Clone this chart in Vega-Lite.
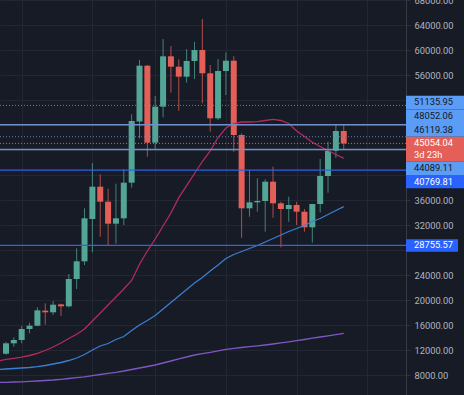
{
  "$schema": "https://vega.github.io/schema/vega-lite/v6.json",
  "width": 406,
  "height": 395,
  "autosize": {"type": "none"},
  "padding": {"left": 0, "top": 0, "right": 58, "bottom": 0},
  "background": "#171b26",
  "config": {"view": {"stroke": null}, "font": "Roboto"},
  "resolve": {"axis": {"x": "independent", "y": "independent"}},
  "datasets": {
    "candles": [
      {"k":0,"o":11400,"h":13300,"l":11250,"c":13070},
      {"k":1,"o":13070,"h":14030,"l":12530,"c":13600},
      {"k":2,"o":13600,"h":15840,"l":13070,"c":15360},
      {"k":3,"o":15360,"h":16370,"l":14670,"c":15890},
      {"k":4,"o":15890,"h":18830,"l":15800,"c":18350},
      {"k":5,"o":18300,"h":19470,"l":16050,"c":18030},
      {"k":6,"o":18030,"h":19840,"l":17600,"c":19250},
      {"k":7,"o":19300,"h":19410,"l":17440,"c":18990},
      {"k":8,"o":18990,"h":24160,"l":18800,"c":23360},
      {"k":9,"o":23360,"h":28270,"l":21760,"c":26190},
      {"k":10,"o":26190,"h":34670,"l":25600,"c":33070},
      {"k":11,"o":32960,"h":41920,"l":27630,"c":38130},
      {"k":12,"o":38130,"h":40110,"l":30130,"c":35730},
      {"k":13,"o":35730,"h":37810,"l":28800,"c":32210},
      {"k":14,"o":32210,"h":38610,"l":29010,"c":33070},
      {"k":15,"o":33070,"h":40960,"l":32000,"c":38770},
      {"k":16,"o":38770,"h":49710,"l":37970,"c":48640},
      {"k":17,"o":48560,"h":58400,"l":45870,"c":57490},
      {"k":18,"o":57490,"h":57600,"l":42930,"c":45170},
      {"k":19,"o":45170,"h":52640,"l":44000,"c":50930},
      {"k":20,"o":50930,"h":61760,"l":49230,"c":58990},
      {"k":21,"o":58990,"h":60640,"l":53170,"c":57330},
      {"k":22,"o":57330,"h":58510,"l":50290,"c":55730},
      {"k":23,"o":55730,"h":60160,"l":54770,"c":58240},
      {"k":24,"o":58240,"h":61280,"l":55360,"c":60000},
      {"k":25,"o":60000,"h":64960,"l":51470,"c":56270},
      {"k":26,"o":56270,"h":57600,"l":46930,"c":49070},
      {"k":27,"o":49070,"h":58560,"l":48800,"c":56640},
      {"k":28,"o":56640,"h":59630,"l":52800,"c":58290},
      {"k":29,"o":58290,"h":59000,"l":43730,"c":46400},
      {"k":30,"o":46400,"h":46670,"l":29970,"c":34670},
      {"k":31,"o":34670,"h":40800,"l":33330,"c":35630},
      {"k":32,"o":35630,"h":39470,"l":34130,"c":35840},
      {"k":33,"o":35840,"h":39310,"l":30930,"c":38930},
      {"k":34,"o":38930,"h":41330,"l":33170,"c":35470},
      {"k":35,"o":35470,"h":35730,"l":28430,"c":34560},
      {"k":36,"o":34560,"h":36530,"l":32530,"c":35200},
      {"k":37,"o":35200,"h":35700,"l":32000,"c":34130},
      {"k":38,"o":34130,"h":34560,"l":30930,"c":31630},
      {"k":39,"o":31630,"h":35360,"l":29170,"c":35360},
      {"k":40,"o":35360,"h":42560,"l":34000,"c":39840},
      {"k":41,"o":39840,"h":45330,"l":37170,"c":43890},
      {"k":42,"o":43890,"h":48160,"l":42770,"c":47040},
      {"k":43,"o":47040,"h":48000,"l":44000,"c":45054.04}
    ],
    "ma": [
      {"k":-1,"r":10240,"b":8880,"p":6800},
      {"k":0,"r":10512,"b":8960,"p":6832},
      {"k":1,"r":10672,"b":9040,"p":6880},
      {"k":2,"r":10848,"b":9120,"p":6912},
      {"k":3,"r":11120,"b":9200,"p":6976},
      {"k":4,"r":11472,"b":9328,"p":7040},
      {"k":5,"r":11920,"b":9520,"p":7120},
      {"k":6,"r":12480,"b":9760,"p":7200},
      {"k":7,"r":13120,"b":10000,"p":7312},
      {"k":8,"r":13840,"b":10320,"p":7440},
      {"k":9,"r":14512,"b":10720,"p":7568},
      {"k":10,"r":15360,"b":11280,"p":7712},
      {"k":11,"r":16640,"b":12000,"p":7888},
      {"k":12,"r":17920,"b":12640,"p":8080},
      {"k":13,"r":19200,"b":13040,"p":8256},
      {"k":14,"r":20480,"b":13680,"p":8432},
      {"k":15,"r":21760,"b":14160,"p":8640},
      {"k":16,"r":23120,"b":15120,"p":8880},
      {"k":17,"r":25728,"b":16000,"p":9120},
      {"k":18,"r":27840,"b":16720,"p":9360},
      {"k":19,"r":29760,"b":17520,"p":9600},
      {"k":20,"r":31840,"b":18560,"p":9920},
      {"k":21,"r":33920,"b":19600,"p":10240},
      {"k":22,"r":36368,"b":20640,"p":10592},
      {"k":23,"r":38288,"b":21680,"p":10880},
      {"k":24,"r":40240,"b":22720,"p":11200},
      {"k":25,"r":42160,"b":23600,"p":11424},
      {"k":26,"r":43840,"b":24640,"p":11632},
      {"k":27,"r":46000,"b":25600,"p":11872},
      {"k":28,"r":47520,"b":26640,"p":12112},
      {"k":29,"r":48240,"b":27280,"p":12256},
      {"k":30,"r":48480,"b":27760,"p":12400},
      {"k":31,"r":48480,"b":28240,"p":12528},
      {"k":32,"r":48528,"b":28720,"p":12656},
      {"k":33,"r":48720,"b":29280,"p":12800},
      {"k":34,"r":48912,"b":29840,"p":12960},
      {"k":35,"r":48720,"b":30400,"p":13136},
      {"k":36,"r":48240,"b":30960,"p":13312},
      {"k":37,"r":47040,"b":31440,"p":13488},
      {"k":38,"r":46160,"b":31920,"p":13680},
      {"k":39,"r":45232,"b":32560,"p":13888},
      {"k":40,"r":44560,"b":33040,"p":14080},
      {"k":41,"r":43920,"b":33680,"p":14272},
      {"k":42,"r":43280,"b":34320,"p":14464},
      {"k":43,"r":42672,"b":34928,"p":14672}
    ],
    "levels": [
      {"price":51135.95,"kind":"dot","label":"51135.95"},
      {"price":48052.06,"kind":"light","label":"48052.06"},
      {"price":46119.38,"kind":"dot","label":"46119.38"},
      {"price":45054.04,"kind":"last","label":"45054.04"},
      {"price":44089.11,"kind":"light","label":"44089.11"},
      {"price":40769.81,"kind":"blue","label":"40769.81"},
      {"price":28755.57,"kind":"blue","label":"28755.57"}
    ]
  },
  "layer": [
    {
      "data": {"name": "candles"},
      "mark": {"type": "rule", "strokeWidth": 1, "opacity": 0.75},
      "encoding": {
        "x": {"field": "k", "type": "quantitative", "title": null, "scale": {"domain": [-0.124, 50.29], "nice": false, "zero": false},
              "axis": {"orient": "bottom", "values": [2, 11, 19, 28, 37, 46], "labels": false, "ticks": false, "domain": false, "title": null, "grid": true, "gridColor": "#232733", "gridWidth": 1}},
        "y": {"field": "l", "type": "quantitative", "title": null, "scale": {"domain": [4800, 68000], "nice": false, "zero": false},
              "axis": {"orient": "right", "values": [8000,12000,16000,20000,24000,28000,32000,36000,40000,44000,48000,52000,56000,60000,64000,68000],
                       "format": ".2f", "labelExpr": "indexof([28000,40000,44000,48000,52000], datum.value) >= 0 ? '' : datum.label",
                       "labelColor": "#b2b5be", "labelFontSize": 9.3, "labelFont": "Roboto", "labelAlign": "left", "labelBaseline": "middle",
                       "labelPadding": 4, "tickSize": 4, "tickColor": "#2e323d", "domainColor": "#363a45", "domainWidth": 1,
                       "grid": true, "gridColor": "#232733", "gridWidth": 1, "title": null, "labelBound": false, "labelFlush": false, "labelOverlap": false, "labelSeparation": 0}},
        "y2": {"field": "h"},
        "color": {"condition": {"test": "datum.c >= datum.o", "value": "#53a596"}, "value": "#e35f57"}
      }
    },
    {
      "data": {"name": "candles"},
      "mark": {"type": "bar", "width": 6},
      "encoding": {
        "x": {"field": "k", "type": "quantitative", "axis": null},
        "y": {"field": "o", "type": "quantitative", "axis": null},
        "y2": {"field": "c"},
        "color": {"condition": {"test": "datum.c >= datum.o", "value": "#53a596"}, "value": "#e35f57"}
      }
    },
    {
      "data": {"name": "ma"},
      "mark": {"type": "line", "color": "#7e57c2", "strokeWidth": 1.3, "clip": true},
      "encoding": {
        "x": {"field": "k", "type": "quantitative", "axis": null},
        "y": {"field": "p", "type": "quantitative", "axis": null}
      }
    },
    {
      "data": {"name": "ma"},
      "mark": {"type": "line", "color": "#3b7fcf", "strokeWidth": 1.3, "clip": true},
      "encoding": {
        "x": {"field": "k", "type": "quantitative", "axis": null},
        "y": {"field": "b", "type": "quantitative", "axis": null}
      }
    },
    {
      "data": {"name": "ma"},
      "mark": {"type": "line", "color": "#b52a5e", "strokeWidth": 1.3, "clip": true},
      "encoding": {
        "x": {"field": "k", "type": "quantitative", "axis": null},
        "y": {"field": "r", "type": "quantitative", "axis": null}
      }
    },
    {
      "data": {"name": "levels"},
      "transform": [{"filter": "datum.kind == 'dot'"}],
      "mark": {"type": "rule", "color": "#5f7fbf", "strokeWidth": 1, "strokeDash": [1, 2]},
      "encoding": {"y": {"field": "price", "type": "quantitative", "axis": null}}
    },
    {
      "data": {"name": "levels"},
      "transform": [{"filter": "datum.kind == 'last'"}],
      "mark": {"type": "rule", "color": "#e35f57", "strokeWidth": 1, "strokeDash": [1, 2]},
      "encoding": {"y": {"field": "price", "type": "quantitative", "axis": null}}
    },
    {
      "data": {"name": "levels"},
      "transform": [{"filter": "datum.kind == 'light'"}],
      "mark": {"type": "rule", "color": "#6e8fcc", "strokeWidth": 1.5},
      "encoding": {"y": {"field": "price", "type": "quantitative", "axis": null}}
    },
    {
      "data": {"name": "levels"},
      "transform": [{"filter": "datum.kind == 'blue'"}],
      "mark": {"type": "rule", "color": "#2f62e6", "strokeWidth": 1.3},
      "encoding": {"y": {"field": "price", "type": "quantitative", "axis": null}}
    },
    {
      "data": {"name": "levels"},
      "transform": [{"filter": "datum.label == '51135.95'"}],
      "layer": [
        {"mark": {"type": "point", "shape": "M-1,-0.334H1V0.124H-1Z", "size": 3364, "filled": true, "opacity": 1, "color": "#5b9cf6", "strokeWidth": 0, "x": {"expr": "width + 29"}}},
        {"mark": {"type": "text", "align": "left", "baseline": "middle", "dy": -3.1, "x": {"expr": "width + 8"}, "fontSize": 9.3, "fill": "#131722"}, "encoding": {"text": {"field": "label"}}}
      ],
      "encoding": {"y": {"field": "price", "type": "quantitative", "axis": null}}
    },
    {
      "data": {"name": "levels"},
      "transform": [{"filter": "datum.label == '48052.06'"}],
      "layer": [
        {"mark": {"type": "point", "shape": "M-1,-0.528H1V-0.059H-1Z", "size": 3364, "filled": true, "opacity": 1, "color": "#5b9cf6", "strokeWidth": 0, "x": {"expr": "width + 29"}}},
        {"mark": {"type": "text", "align": "left", "baseline": "middle", "dy": -8.7, "x": {"expr": "width + 8"}, "fontSize": 9.3, "fill": "#131722"}, "encoding": {"text": {"field": "label"}}}
      ],
      "encoding": {"y": {"field": "price", "type": "quantitative", "axis": null}}
    },
    {
      "data": {"name": "levels"},
      "transform": [{"filter": "datum.label == '46119.38'"}],
      "layer": [
        {"mark": {"type": "point", "shape": "M-1,-0.474H1V-0.002H-1Z", "size": 3364, "filled": true, "opacity": 1, "color": "#5b9cf6", "strokeWidth": 0, "x": {"expr": "width + 29"}}},
        {"mark": {"type": "text", "align": "left", "baseline": "middle", "dy": -7, "x": {"expr": "width + 8"}, "fontSize": 9.3, "fill": "#131722"}, "encoding": {"text": {"field": "label"}}}
      ],
      "encoding": {"y": {"field": "price", "type": "quantitative", "axis": null}}
    },
    {
      "data": {"name": "levels"},
      "transform": [{"filter": "datum.label == '45054.04'"}],
      "layer": [
        {"mark": {"type": "point", "shape": "M-1,-0.231H1V0.631H-1Z", "size": 3364, "filled": true, "opacity": 1, "color": "#e35f57", "strokeWidth": 0, "x": {"expr": "width + 29"}}},
        {"mark": {"type": "text", "align": "left", "baseline": "middle", "dy": 0, "x": {"expr": "width + 8"}, "fontSize": 9.3, "fill": "#ffffff"}, "encoding": {"text": {"field": "label"}}},
        {"mark": {"type": "text", "align": "left", "baseline": "middle", "dy": 11.6, "x": {"expr": "width + 8"}, "fontSize": 9.3, "fill": "#ffffff", "text": "3d 23h"}}
      ],
      "encoding": {"y": {"field": "price", "type": "quantitative", "axis": null}}
    },
    {
      "data": {"name": "levels"},
      "transform": [{"filter": "datum.label == '44089.11'"}],
      "layer": [
        {"mark": {"type": "point", "shape": "M-1,0.424H1V0.883H-1Z", "size": 3364, "filled": true, "opacity": 1, "color": "#5b9cf6", "strokeWidth": 0, "x": {"expr": "width + 29"}}},
        {"mark": {"type": "text", "align": "left", "baseline": "middle", "dy": 18.9, "x": {"expr": "width + 8"}, "fontSize": 9.3, "fill": "#131722"}, "encoding": {"text": {"field": "label"}}}
      ],
      "encoding": {"y": {"field": "price", "type": "quantitative", "axis": null}}
    },
    {
      "data": {"name": "levels"},
      "transform": [{"filter": "datum.label == '40769.81'"}],
      "layer": [
        {"mark": {"type": "point", "shape": "M-1,0.166H1V0.624H-1Z", "size": 3364, "filled": true, "opacity": 1, "color": "#2962ff", "strokeWidth": 0, "x": {"expr": "width + 29"}}},
        {"mark": {"type": "text", "align": "left", "baseline": "middle", "dy": 11.5, "x": {"expr": "width + 8"}, "fontSize": 9.3, "fill": "#ffffff"}, "encoding": {"text": {"field": "label"}}}
      ],
      "encoding": {"y": {"field": "price", "type": "quantitative", "axis": null}}
    },
    {
      "data": {"name": "levels"},
      "transform": [{"filter": "datum.label == '28755.57'"}],
      "layer": [
        {"mark": {"type": "point", "shape": "M-1,-0.207H0.793V0.221H-1Z", "size": 3364, "filled": true, "opacity": 1, "color": "#2962ff", "strokeWidth": 0, "x": {"expr": "width + 29"}}},
        {"mark": {"type": "text", "align": "left", "baseline": "middle", "dy": 0, "x": {"expr": "width + 8"}, "fontSize": 9.3, "fill": "#ffffff"}, "encoding": {"text": {"field": "label"}}}
      ],
      "encoding": {"y": {"field": "price", "type": "quantitative", "axis": null}}
    }
  ]
}
